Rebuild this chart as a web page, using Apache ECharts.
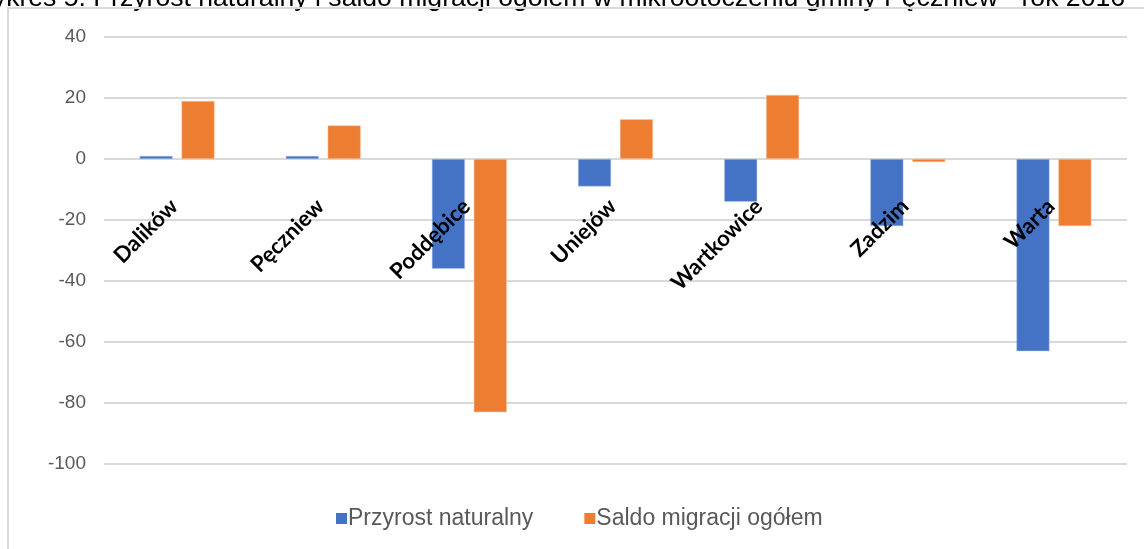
<!DOCTYPE html>
<html><head><meta charset="utf-8">
<script src="https://cdn.jsdelivr.net/npm/echarts@6/dist/echarts.min.js"></script>
<style>html,body{margin:0;padding:0;background:#fff}#c{width:1144px;height:549px}</style>
</head><body><div id="c"></div>
<script>
const titleText = 'Wykres 5. Przyrost naturalny i saldo migracji ogółem w mikrootoczeniu gminy Pęczniew - rok 2016';
const categories = ['Dalików', 'Pęczniew', 'Poddębice', 'Uniejów', 'Wartkowice', 'Zadzim', 'Warta'];
const seriesNames = ['Przyrost naturalny', 'Saldo migracji ogółem'];
const przyrost = [1, 1, -36, -9, -14, -22, -63];
const saldo = [19, 11, -83, 13, 21, -1, -22];
const yMin = -100, yMax = 40, yStep = 20;

const W = 1144, H = 549;
const gridTop = 37, gridBottom = 85;
const gridH = H - gridTop - gridBottom;
const zeroOffset = -gridH * (0 - yMin) / (yMax - yMin);

const chart = echarts.init(document.getElementById('c'), null, {renderer: 'canvas'});
chart.setOption({
  animation: false,
  backgroundColor: '#fff',
  graphic: [
    {type: 'text', z: 10, style: {x: 1125, y: 12, text: titleText, align: 'right', verticalAlign: 'bottom', font: '26.6px "Liberation Sans", Arial, sans-serif', fill: '#000'}},
    {type: 'rect', z: 11, shape: {x: 8, y: 8, width: 1200, height: 600}, style: {fill: 'none', stroke: '#d9d9d9', lineWidth: 2}}
  ],
  grid: {left: 104, right: 17, top: gridTop, bottom: gridBottom, containLabel: false, outerBoundsMode: 'none'},
  legend: {
    bottom: 19, left: 336, padding: 0, itemWidth: 11, itemHeight: 11, itemGap: 51,
    icon: 'rect', itemStyle: {borderWidth: 0},
    textStyle: {fontFamily: '"Liberation Sans", Arial, sans-serif', fontSize: 23, color: '#595959', padding: [0, 0, 0, -4]},
    data: seriesNames
  },
  xAxis: {
    type: 'category', data: categories, position: 'bottom', offset: zeroOffset, z: 10,
    axisLine: {show: false, onZero: false}, axisTick: {show: false},
    axisLabel: {rotate: 45, margin: 41, padding: [0, 4, 0, 0], fontFamily: 'Lato, "Open Sans", sans-serif', fontWeight: 'bold', fontSize: 22, color: '#000', interval: 0}
  },
  yAxis: {
    type: 'value', min: yMin, max: yMax, interval: yStep,
    axisLine: {show: false}, axisTick: {show: false},
    axisLabel: {margin: 18, fontFamily: '"Liberation Sans", Arial, sans-serif', fontSize: 19, color: '#595959'},
    splitLine: {lineStyle: {color: '#d9d9d9', width: 2}}
  },
  series: [
    {name: seriesNames[0], type: 'bar', z: 2, data: przyrost, barWidth: 33, barGap: '27%', itemStyle: {color: '#4472c4', borderColor: '#b4c7e7', borderWidth: 0.5}},
    {name: seriesNames[1], type: 'bar', z: 2, data: saldo, barWidth: 33, barGap: '27%', itemStyle: {color: '#ed7d31', borderColor: '#f8cbad', borderWidth: 0.5}}
  ]
});
</script></body></html>
